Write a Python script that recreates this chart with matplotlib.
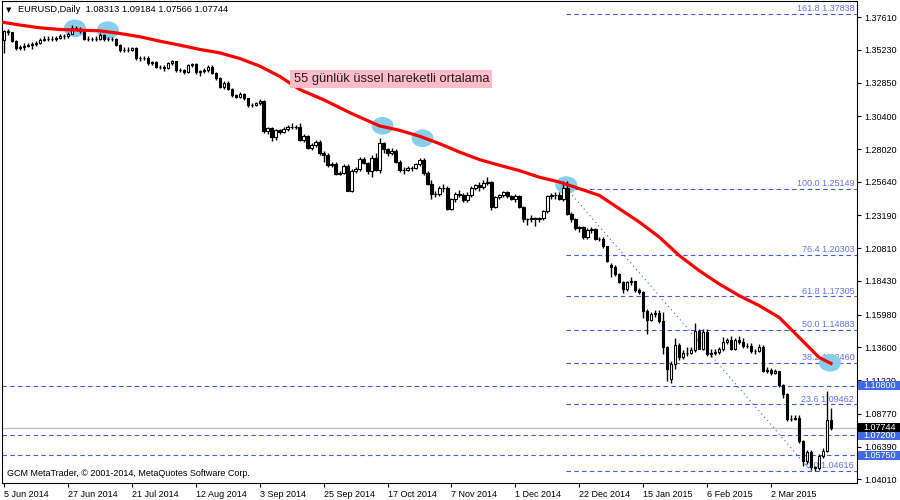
import matplotlib
matplotlib.use("Agg")
import matplotlib.pyplot as plt
from matplotlib.patches import Ellipse, Rectangle
from matplotlib.ticker import FormatStrFormatter
import numpy as np

plt.rcParams['font.family'] = ['Liberation Sans', 'DejaVu Sans']

# EURUSD daily candles, 5 Jun 2014 .. Mar 2015
opens = [
    1.3595, 1.3660, 1.3650, 1.3590, 1.3535, 1.3545, 1.3550, 1.3560, 1.3565, 1.3575,
    1.3595, 1.3605, 1.3605, 1.3600, 1.3610, 1.3625, 1.3620, 1.3640, 1.3685, 1.3675,
    1.3660, 1.3605, 1.3600, 1.3600, 1.3605, 1.3630, 1.3600, 1.3600, 1.3600, 1.3557,
    1.3521, 1.3525, 1.3525, 1.3533, 1.3460, 1.3465, 1.3465, 1.3424, 1.3436, 1.3400,
    1.3400, 1.3392, 1.3424, 1.3440, 1.3375, 1.3375, 1.3365, 1.3412, 1.3418, 1.3363,
    1.3368, 1.3375, 1.3400, 1.3358, 1.3315, 1.3254, 1.3285, 1.3240, 1.3193, 1.3180,
    1.3200, 1.3170, 1.3125, 1.3125, 1.3135, 1.3150, 1.2930, 1.2955, 1.2890, 1.2940,
    1.2926, 1.2950, 1.2965, 1.2960, 1.2965, 1.2870, 1.2900, 1.2810, 1.2830, 1.2855,
    1.2770, 1.2760, 1.2688, 1.2690, 1.2623, 1.2630, 1.2675, 1.2500, 1.2645, 1.2655,
    1.2730, 1.2700, 1.2640, 1.2740, 1.2650, 1.2843, 1.2800, 1.2770, 1.2790, 1.2710,
    1.2650, 1.2650, 1.2665, 1.2665, 1.2690, 1.2720, 1.2630, 1.2550, 1.2475, 1.2475,
    1.2520, 1.2520, 1.2365, 1.2435, 1.2475, 1.2470, 1.2430, 1.2470, 1.2520, 1.2540,
    1.2525, 1.2555, 1.2560, 1.2380, 1.2450, 1.2465, 1.2490, 1.2460, 1.2440, 1.2460,
    1.2380, 1.2290, 1.2290, 1.2300, 1.2290, 1.2300, 1.2350, 1.2460, 1.2470, 1.2470,
    1.2440, 1.2515, 1.2330, 1.2290, 1.2225, 1.2235, 1.2160, 1.2210, 1.2220, 1.2150,
    1.2150, 1.2095, 1.1960, 1.1945, 1.1890, 1.1835, 1.1785, 1.1835, 1.1840, 1.1775,
    1.1760, 1.1627, 1.1560, 1.1600, 1.1610, 1.1552, 1.1360, 1.1130, 1.1240, 1.1380,
    1.1290, 1.1320, 1.1320, 1.1340, 1.1480, 1.1350, 1.1470, 1.1315, 1.1320, 1.1325,
    1.1345, 1.1400, 1.1410, 1.1350, 1.1410, 1.1400, 1.1370, 1.1370, 1.1330, 1.1335,
    1.1360, 1.1190, 1.1195, 1.1175, 1.1185, 1.1085, 1.1020, 1.0840, 1.0840, 1.0850,
    1.0680, 1.0534, 1.0600, 1.0490, 1.0480, 1.0570, 1.0610, 1.08313]
highs = [
    1.3670, 1.3677, 1.3655, 1.3595, 1.3560, 1.3570, 1.3575, 1.3580, 1.3590, 1.3610,
    1.3620, 1.3625, 1.3620, 1.3625, 1.3640, 1.3640, 1.3655, 1.3700, 1.3695, 1.3690,
    1.3665, 1.3625, 1.3615, 1.3620, 1.3645, 1.3640, 1.3615, 1.3615, 1.3610, 1.3565,
    1.3540, 1.3540, 1.3545, 1.3540, 1.3480, 1.3480, 1.3475, 1.3445, 1.3445, 1.3415,
    1.3410, 1.3435, 1.3450, 1.3445, 1.3390, 1.3385, 1.3420, 1.3430, 1.3425, 1.3380,
    1.3390, 1.3410, 1.3410, 1.3365, 1.3325, 1.3295, 1.3295, 1.3245, 1.3205, 1.3215,
    1.3210, 1.3175, 1.3140, 1.3145, 1.3165, 1.3160, 1.2965, 1.2965, 1.2950, 1.2945,
    1.2960, 1.2980, 1.2990, 1.2975, 1.2990, 1.2910, 1.2905, 1.2845, 1.2870, 1.2870,
    1.2790, 1.2770, 1.2705, 1.2705, 1.2645, 1.2690, 1.2690, 1.2655, 1.2670, 1.2745,
    1.2745, 1.2710, 1.2755, 1.2770, 1.2885, 1.2850, 1.2810, 1.2810, 1.2800, 1.2720,
    1.2670, 1.2680, 1.2680, 1.2700, 1.2740, 1.2740, 1.2640, 1.2575, 1.2495, 1.2535,
    1.2545, 1.2535, 1.2445, 1.2490, 1.2505, 1.2480, 1.2490, 1.2530, 1.2550, 1.2560,
    1.2575, 1.2600, 1.2570, 1.2460, 1.2475, 1.2500, 1.2500, 1.2470, 1.2475, 1.2470,
    1.2390, 1.2300, 1.2320, 1.2310, 1.2310, 1.2360, 1.2470, 1.2485, 1.2490, 1.2490,
    1.2570, 1.2570, 1.2345, 1.2300, 1.2245, 1.2245, 1.2225, 1.2235, 1.2225, 1.2165,
    1.2160, 1.2100, 1.1970, 1.1960, 1.1900, 1.1845, 1.1845, 1.1870, 1.1845, 1.1790,
    1.1770, 1.1640, 1.1615, 1.1630, 1.1635, 1.1620, 1.1370, 1.1260, 1.1425, 1.1390,
    1.1340, 1.1365, 1.1365, 1.1535, 1.1495, 1.1495, 1.1490, 1.1345, 1.1345, 1.1365,
    1.1435, 1.1430, 1.1445, 1.1430, 1.1440, 1.1425, 1.1395, 1.1390, 1.1350, 1.1385,
    1.1375, 1.1215, 1.1210, 1.1200, 1.1190, 1.1095, 1.1030, 1.0865, 1.0870, 1.0865,
    1.0690, 1.0615, 1.0615, 1.0500, 1.0585, 1.0630, 1.1044, 1.09184]
lows = [
    1.3503, 1.3630, 1.3580, 1.3520, 1.3525, 1.3520, 1.3540, 1.3530, 1.3550, 1.3565,
    1.3585, 1.3590, 1.3585, 1.3585, 1.3600, 1.3605, 1.3610, 1.3635, 1.3665, 1.3645,
    1.3595, 1.3590, 1.3585, 1.3590, 1.3595, 1.3590, 1.3585, 1.3590, 1.3550, 1.3510,
    1.3510, 1.3510, 1.3515, 1.3450, 1.3445, 1.3450, 1.3415, 1.3410, 1.3390, 1.3385,
    1.3370, 1.3385, 1.3410, 1.3365, 1.3360, 1.3350, 1.3355, 1.3400, 1.3350, 1.3335,
    1.3355, 1.3365, 1.3345, 1.3305, 1.3245, 1.3240, 1.3230, 1.3180, 1.3170, 1.3175,
    1.3160, 1.3110, 1.3110, 1.3115, 1.3125, 1.2920, 1.2910, 1.2860, 1.2865, 1.2910,
    1.2915, 1.2935, 1.2945, 1.2945, 1.2860, 1.2855, 1.2800, 1.2795, 1.2820, 1.2760,
    1.2710, 1.2670, 1.2670, 1.2615, 1.2615, 1.2620, 1.2500, 1.2490, 1.2630, 1.2640,
    1.2690, 1.2620, 1.2600, 1.2640, 1.2625, 1.2770, 1.2750, 1.2760, 1.2700, 1.2635,
    1.2620, 1.2640, 1.2640, 1.2655, 1.2680, 1.2615, 1.2540, 1.2440, 1.2455, 1.2460,
    1.2490, 1.2360, 1.2355, 1.2420, 1.2455, 1.2420, 1.2415, 1.2455, 1.2505, 1.2500,
    1.2510, 1.2540, 1.2360, 1.2370, 1.2440, 1.2450, 1.2445, 1.2430, 1.2420, 1.2370,
    1.2270, 1.2250, 1.2270, 1.2245, 1.2275, 1.2285, 1.2340, 1.2440, 1.2440, 1.2430,
    1.2425, 1.2320, 1.2275, 1.2215, 1.2200, 1.2150, 1.2150, 1.2195, 1.2140, 1.2130,
    1.2085, 1.1980, 1.1875, 1.1880, 1.1830, 1.1755, 1.1770, 1.1815, 1.1765, 1.1750,
    1.1570, 1.1460, 1.1550, 1.1580, 1.1540, 1.1315, 1.1115, 1.1100, 1.1205, 1.1265,
    1.1275, 1.1300, 1.1310, 1.1325, 1.1345, 1.1340, 1.1300, 1.1290, 1.1305, 1.1310,
    1.1335, 1.1385, 1.1340, 1.1340, 1.1385, 1.1355, 1.1355, 1.1320, 1.1315, 1.1325,
    1.1180, 1.1175, 1.1160, 1.1165, 1.1075, 1.0990, 1.0825, 1.0825, 1.0830, 1.0665,
    1.0495, 1.0510, 1.0465, 1.0462, 1.0470, 1.0555, 1.0600, 1.07566]
closes = [
    1.3660, 1.3650, 1.3590, 1.3535, 1.3545, 1.3550, 1.3560, 1.3565, 1.3575, 1.3595,
    1.3605, 1.3605, 1.3600, 1.3610, 1.3625, 1.3620, 1.3640, 1.3685, 1.3675, 1.3660,
    1.3605, 1.3600, 1.3600, 1.3605, 1.3630, 1.3600, 1.3600, 1.3600, 1.3557, 1.3521,
    1.3525, 1.3525, 1.3533, 1.3460, 1.3465, 1.3465, 1.3424, 1.3436, 1.3400, 1.3400,
    1.3392, 1.3424, 1.3440, 1.3375, 1.3375, 1.3365, 1.3412, 1.3418, 1.3363, 1.3368,
    1.3375, 1.3400, 1.3358, 1.3315, 1.3254, 1.3285, 1.3240, 1.3193, 1.3180, 1.3200,
    1.3170, 1.3125, 1.3125, 1.3135, 1.3150, 1.2930, 1.2955, 1.2890, 1.2940, 1.2926,
    1.2950, 1.2965, 1.2960, 1.2965, 1.2870, 1.2900, 1.2810, 1.2830, 1.2855, 1.2770,
    1.2760, 1.2688, 1.2690, 1.2623, 1.2630, 1.2675, 1.2500, 1.2645, 1.2655, 1.2730,
    1.2700, 1.2640, 1.2740, 1.2650, 1.2843, 1.2800, 1.2770, 1.2790, 1.2710, 1.2650,
    1.2650, 1.2665, 1.2665, 1.2690, 1.2720, 1.2630, 1.2550, 1.2475, 1.2475, 1.2520,
    1.2520, 1.2365, 1.2435, 1.2475, 1.2470, 1.2430, 1.2470, 1.2520, 1.2540, 1.2525,
    1.2555, 1.2560, 1.2380, 1.2450, 1.2465, 1.2490, 1.2460, 1.2440, 1.2460, 1.2380,
    1.2290, 1.2290, 1.2300, 1.2290, 1.2300, 1.2350, 1.2460, 1.2470, 1.2470, 1.2440,
    1.2515, 1.2330, 1.2290, 1.2225, 1.2235, 1.2160, 1.2210, 1.2220, 1.2150, 1.2150,
    1.2095, 1.1990, 1.1945, 1.1890, 1.1835, 1.1785, 1.1835, 1.1840, 1.1775, 1.1760,
    1.1627, 1.1560, 1.1600, 1.1610, 1.1552, 1.1360, 1.1205, 1.1240, 1.1380, 1.1290,
    1.1320, 1.1320, 1.1340, 1.1480, 1.1350, 1.1470, 1.1315, 1.1320, 1.1325, 1.1345,
    1.1400, 1.1410, 1.1350, 1.1410, 1.1400, 1.1370, 1.1370, 1.1330, 1.1335, 1.1360,
    1.1190, 1.1195, 1.1175, 1.1185, 1.1085, 1.1020, 1.0840, 1.0840, 1.0850, 1.0680,
    1.0534, 1.0600, 1.0490, 1.0480, 1.0570, 1.0610, 1.08313, 1.07744]

# 55 EMA, read at these bars
ema_bars = [-1, 4, 9, 14, 19, 24, 29, 34, 39, 44, 49, 54, 59, 64, 69, 74, 80, 87,
            94, 99, 104, 109, 114, 119, 124, 129, 134, 139, 144, 149, 154, 159,
            164, 169, 174, 179, 184, 189, 194, 199, 204, 207]
ema_vals = [1.3727, 1.3703, 1.3683, 1.3671, 1.3666, 1.3661, 1.3642, 1.3618, 1.3586,
            1.3557, 1.3526, 1.3501, 1.3460, 1.3405, 1.3330, 1.3235, 1.3160, 1.3060,
            1.2970, 1.2938, 1.2895, 1.2841, 1.2780, 1.2725, 1.2684, 1.2645, 1.2597,
            1.2562, 1.2514, 1.2465, 1.2368, 1.2271, 1.2162, 1.2028, 1.1918, 1.1821,
            1.1736, 1.1664, 1.1578, 1.1433, 1.1287, 1.1243]

# highlighted touches of the average
touch_bars = [17.75, 26, 94.75, 104.75, 140.75, 206.75]
touch_prices = [1.3679, 1.3666, 1.2971, 1.2880, 1.2540, 1.1248]

fib_names = ['161.8', '100.0', '76.4', '61.8', '50.0', '38.2', '23.6', '0.0']
fib_prices = [1.37838, 1.25149, 1.20303, 1.17305, 1.14883, 1.12460, 1.09462, 1.04616]
fib_from_bar = 140.75
fib_to_bar = 202

level_prices = [1.10800, 1.07200, 1.05750]
last_price = 1.07744

price_ticks = [1.37610, 1.35230, 1.32850, 1.30400, 1.28020, 1.25640, 1.23190, 1.20810,
               1.18430, 1.15980, 1.13600, 1.11220, 1.08770, 1.06390, 1.04010]
date_bars = [0, 16, 32, 48, 64, 80, 96, 112, 128, 144, 160, 176, 192]
date_labels = ['5 Jun 2014', '27 Jun 2014', '21 Jul 2014', '12 Aug 2014', '3 Sep 2014',
               '25 Sep 2014', '17 Oct 2014', '7 Nov 2014', '1 Dec 2014', '22 Dec 2014',
               '15 Jan 2015', '6 Feb 2015', '2 Mar 2015']

fig = plt.figure(figsize=(9, 5), dpi=100)
ax = fig.add_axes([2 / 900, 17 / 500, 855 / 900, 482 / 500])
ax.set_xlim(-0.5, 213.5)
ax.set_ylim(1.0374, 1.3878)

fib_col = '#3c5ae6'
fib_txt = '#6470e6'

# fibo levels + trend line
xr = ax.get_xlim()[1]
ax.hlines(fib_prices, fib_from_bar, xr, colors=fib_col, linewidth=0.8,
          linestyles=(0, (4, 3)), zorder=2)
ax.plot([fib_from_bar, fib_to_bar], [fib_prices[1], fib_prices[-1]], color=fib_col,
        linewidth=0.8, linestyle=(0, (1, 3)), zorder=2)
for name, p in zip(fib_names, fib_prices):
    ax.annotate(name + ' ' + f'{p:.5f}', xy=(1, p), xycoords=('axes fraction', 'data'),
                xytext=(-2, 0.5), textcoords='offset points', ha='right', va='bottom',
                fontsize=6.5, color=fib_txt, zorder=3)

for p in level_prices:
    ax.axhline(p, color=fib_col, linewidth=0.8, linestyle=(0, (4, 3)), zorder=2)
ax.axhline(last_price, color='#c0c0c0', linewidth=1, zorder=1)

for bx, by in zip(touch_bars, touch_prices):
    ax.add_patch(Ellipse((bx, by), 5.5, 0.0128, facecolor='#87ceeb', edgecolor='none', zorder=4))

# candles
x = np.arange(len(closes))
o = np.array(opens)
h = np.array(highs)
l = np.array(lows)
c = np.array(closes)
up = c >= o
ax.vlines(x, l, h, color='black', linewidth=1, zorder=5)
ax.bar(x[up], (c - o)[up], bottom=o[up], width=0.6, color='white', edgecolor='black',
       linewidth=0.8, zorder=6)
ax.bar(x[~up], (c - o)[~up], bottom=o[~up], width=0.6, color='black', edgecolor='black',
       linewidth=0.8, zorder=6)

ax.plot(ema_bars, ema_vals, color='red', linewidth=2.3, zorder=7)

ax.text(72.5, 1.3310, '55 günlük üssel hareketli ortalama', fontsize=9.3, color='#202020',
        ha='left', va='center', zorder=8,
        bbox=dict(boxstyle='square,pad=0.25', facecolor='#ffbcc8', edgecolor='none'))

# axes like the terminal
ax.yaxis.tick_right()
ax.set_yticks(price_ticks)
ax.yaxis.set_major_formatter(FormatStrFormatter('%.5f'))
ax.set_xticks(date_bars)
ax.set_xticklabels(date_labels, ha='left')
ax.tick_params(axis='both', direction='out', length=3, width=0.8, labelsize=6.5, pad=2,
               colors='black')
for s in ax.spines.values():
    s.set_color('black')
    s.set_linewidth(0.8)

# price tags on the scale
ytr = ax.get_yaxis_transform()
tag_w = 43 / 855
tag_h = 9 / 1373
tags = [(p, '#4169e1') for p in level_prices] + [(last_price, 'black')]
for p, col in tags:
    ax.add_patch(Rectangle((1.001, p - tag_h / 2), tag_w, tag_h, transform=ytr,
                           facecolor=col, edgecolor='none', clip_on=False, zorder=9))
    ax.text(1.001 + 5 / 855, p, f'{p:.5f}', transform=ytr, ha='left', va='center',
            fontsize=6.5, color='white', clip_on=False, zorder=10)

fig.text(6 / 900, 1 - 10 / 500, '▼', fontsize=5, va='center', ha='left',
         family=['DejaVu Sans'])
fig.text(18 / 900, 1 - 10 / 500, 'EURUSD,Daily  1.08313 1.09184 1.07566 1.07744',
         fontsize=6.7, va='center', ha='left')
fig.text(7 / 900, 1 - 474 / 500, 'GCM MetaTrader, © 2001-2014, MetaQuotes Software Corp.',
         fontsize=6.5, va='center', ha='left')

fig.savefig('out.png', dpi=100)
